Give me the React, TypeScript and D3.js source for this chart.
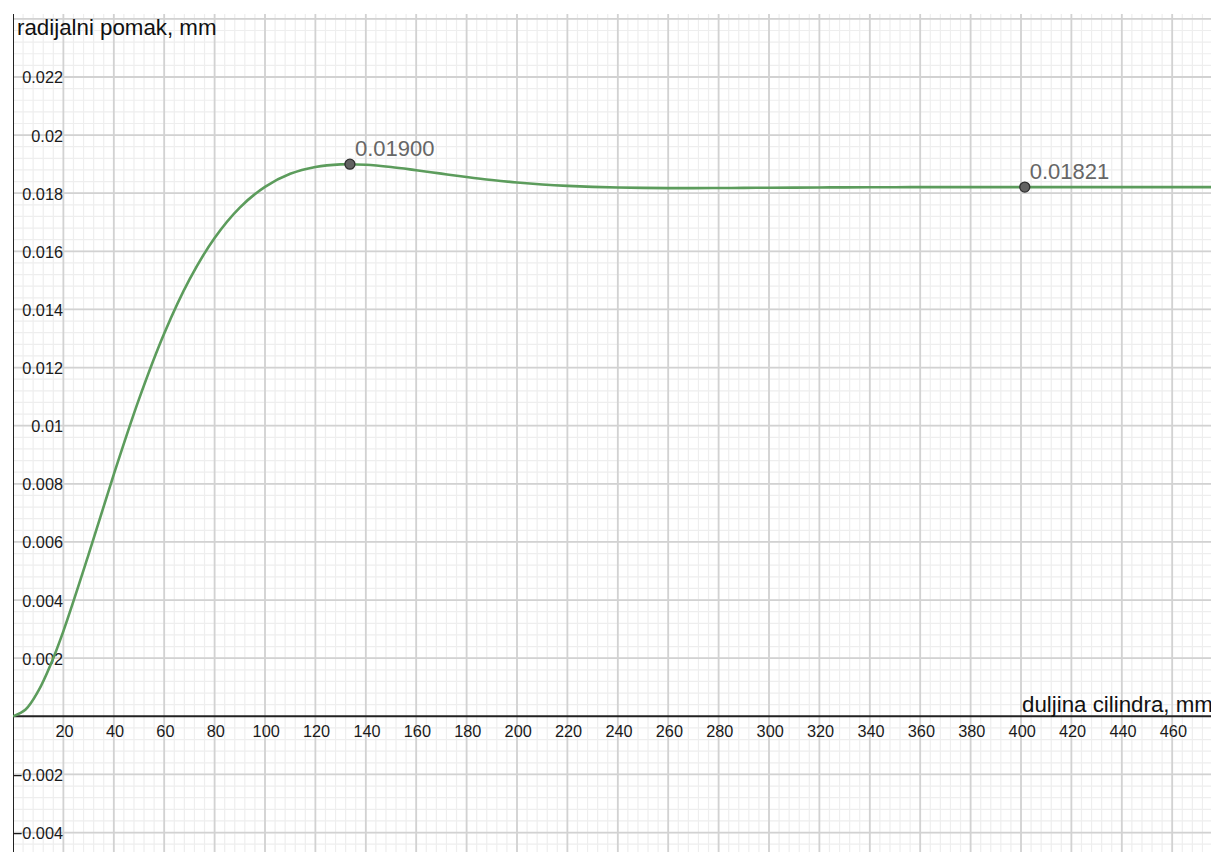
import React from "react";
import * as d3 from "d3";

// ---- data ----
const xValues = [0, 5, 10, 15, 20, 30, 40, 50, 60, 70, 80, 90, 100, 110, 120, 130, 140, 150, 160, 170, 180, 190, 200, 210, 220, 230, 240, 250, 260, 270, 280, 290, 300, 310, 320, 330, 340, 350, 360, 370, 380, 390, 400, 420, 440, 460, 480];
const yValues = [0, 0.000235, 0.000865, 0.001794, 0.002933, 0.005569, 0.008324, 0.010915, 0.013173, 0.015025, 0.016461, 0.017507, 0.018221, 0.018669, 0.018905, 0.018993, 0.01898, 0.018902, 0.018791, 0.018673, 0.018558, 0.018455, 0.01837, 0.018302, 0.018252, 0.018217, 0.018195, 0.018183, 0.018177, 0.018176, 0.018179, 0.018184, 0.018189, 0.018194, 0.018198, 0.018202, 0.018205, 0.018207, 0.018209, 0.01821, 0.018211, 0.018211, 0.018211, 0.01821, 0.01821, 0.01821, 0.01821];

const markerX = [133.7, 401.5];
const markerY = [0.019, 0.01821];
const markerLabels = ["0.01900", "0.01821"];

const xTickValues = [20, 40, 60, 80, 100, 120, 140, 160, 180, 200, 220, 240, 260, 280, 300, 320, 340, 360, 380, 400, 420, 440, 460];
const yTickValues = [-0.004, -0.002, 0.002, 0.004, 0.006, 0.008, 0.01, 0.012, 0.014, 0.016, 0.018, 0.02, 0.022];
const yTickLabels = ["\u22120.004", "\u22120.002", "0.002", "0.004", "0.006", "0.008", "0.01", "0.012", "0.014", "0.016", "0.018", "0.02", "0.022"];

const yAxisTitle = "radijalni pomak, mm";
const xAxisTitle = "duljina cilindra, mm";

const W = 1211;
const H = 852;
const LEFT = 13;
const TOP = 14;
const FONT = "'Liberation Sans', Arial, sans-serif";

export default function App() {
  const x = d3.scaleLinear().domain([0, 400]).range([LEFT, LEFT + 400 * 2.52]);
  const y = d3.scaleLinear().domain([0, 0.01]).range([716.3, 425.7]);

  const xMax = x.invert(W);
  const yMax = y.invert(TOP);

  const minorX = d3.range(0, xMax + 4, 4).filter((v) => x(v) <= W);
  const minorY = d3.range(-0.0048, yMax + 0.0004, 0.0004).filter((v) => y(v) >= TOP && y(v) <= H);
  const majorX = d3.range(20, xMax, 20);
  const majorY = d3.range(-0.004, yMax, 0.002).filter((v) => Math.abs(v) > 1e-9);

  const line = d3
    .line<number>()
    .x((_, i) => x(xValues[i]))
    .y((d) => y(d))
    .curve(d3.curveCatmullRom.alpha(0.5));

  return (
    <svg width={W} height={H} style={{ position: "absolute", left: 0, top: 0, background: "#fff" }}>
      <defs>
        <clipPath id="plot">
          <rect x={LEFT} y={TOP} width={W - LEFT} height={H - TOP} />
        </clipPath>
      </defs>
      <g clipPath="url(#plot)">
        {minorX.map((v, i) => (
          <line key={"mx" + i} x1={x(v)} x2={x(v)} y1={TOP} y2={H} stroke="#eeeeee" strokeWidth={1.2} />
        ))}
        {minorY.map((v, i) => (
          <line key={"my" + i} x1={LEFT} x2={W} y1={y(v)} y2={y(v)} stroke="#eeeeee" strokeWidth={1.2} />
        ))}
        {majorX.map((v, i) => (
          <line key={"Mx" + i} x1={x(v)} x2={x(v)} y1={TOP} y2={H} stroke="#d2d2d2" strokeWidth={1.8} />
        ))}
        {majorY.map((v, i) => (
          <line key={"My" + i} x1={LEFT} x2={W} y1={y(v)} y2={y(v)} stroke="#d2d2d2" strokeWidth={1.8} />
        ))}

        {/* axes */}
        <line x1={LEFT} x2={W} y1={y(0)} y2={y(0)} stroke="#222" strokeWidth={2} />
        <line x1={x(0)} x2={x(0)} y1={TOP} y2={H} stroke="#222" strokeWidth={2} />

        {/* tick labels */}
        {xTickValues.map((v) => (
          <text key={"xt" + v} x={x(v) + 1.2} y={737} textAnchor="middle" fontFamily={FONT} fontSize={16.3} fill="#1a1a1a">
            {v}
          </text>
        ))}
        {yTickValues.map((v, i) => (
          <text key={"yt" + i} x={63} y={y(v) + 6.5} textAnchor="end" fontFamily={FONT} fontSize={16.3} fill="#1a1a1a">
            {yTickLabels[i]}
          </text>
        ))}

        {/* axis titles */}
        <text x={17} y={35} fontFamily={FONT} fontSize={22.3} fill="#111">
          {yAxisTitle}
        </text>
        <text x={1022} y={712} fontFamily={FONT} fontSize={22.3} fill="#111">
          {xAxisTitle}
        </text>

        {/* curve */}
        <path d={line(yValues) || ""} fill="none" stroke="#5c9c5c" strokeWidth={2.6} strokeLinejoin="round" />

        {/* markers */}
        {markerX.map((mx, i) => (
          <g key={"m" + i}>
            <circle cx={x(mx)} cy={y(markerY[i])} r={5} fill="#626262" stroke="#2e2e2e" strokeWidth={1.3} />
            <text x={x(mx) + 5} y={y(markerY[i]) - 8} fontFamily={FONT} fontSize={22} fill="#666">
              {markerLabels[i]}
            </text>
          </g>
        ))}
      </g>
    </svg>
  );
}
